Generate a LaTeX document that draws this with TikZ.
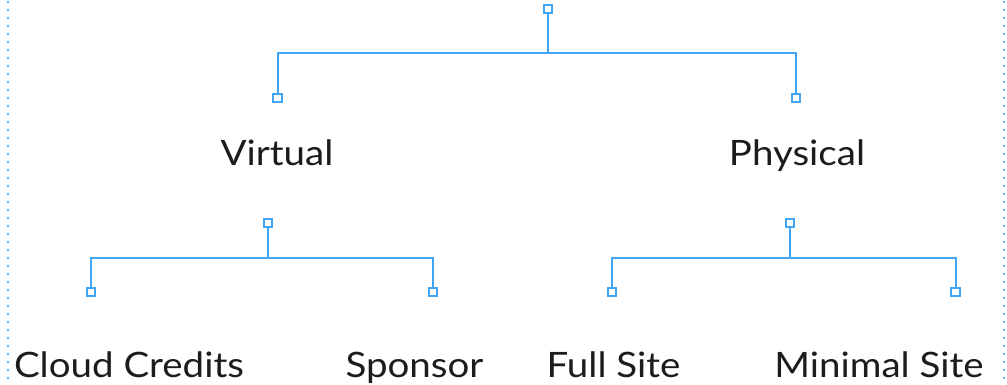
\documentclass[tikz,border=0pt]{standalone}
\usepackage{fontspec}
\setmainfont{Lato}[FakeStretch=1.1]
\definecolor{linkblue}{HTML}{42A5F5}
\definecolor{inkgray}{HTML}{1C1C1C}
\begin{document}
\begin{tikzpicture}[x=1pt,y=-1pt,
  link/.style={draw=linkblue,line width=2pt},
  knob/.style={rectangle,draw=linkblue,fill=white,line width=1.8pt,minimum size=8.5pt,inner sep=0pt},
  label/.style={anchor=base,inner sep=0pt,text=inkgray,font=\fontsize{35}{40}\selectfont},
  guide/.style={draw=linkblue!85,line width=2pt,dash pattern=on 2pt off 6pt}]
\useasboundingbox (0,0) rectangle (1007,385);
% side guides
\draw[guide] (7.5,1) -- (7.5,385);
\draw[guide] (1003.5,1) -- (1003.5,385);

% junction points of the branches
\coordinate (j0) at (548,53.5);
\coordinate (j1) at (268,257.5);
\coordinate (j2) at (790,257.5);

% knobs
\node[knob] (root) at (548,9) {};
\node[knob] (vin) at (277.5,98) {};
\node[knob] (pin) at (796,98) {};
\node[knob] (vout) at (268,223) {};
\node[knob] (pout) at (790,223) {};
\node[knob] (cc) at (91,292) {};
\node[knob] (sp) at (433,292) {};
\node[knob] (fs) at (612,292) {};
\node[knob] (ms) at (955.5,292) {};

% connectors between the knobs
\draw[link] (root.south) -- (j0);
\draw[link] (vin.north) |- (j0) -| (pin.north);
\draw[link] (vout.south) -- (j1);
\draw[link] (cc.north) |- (j1) -| (sp.north);
\draw[link] (pout.south) -- (j2);
\draw[link] (fs.north) |- (j2) -| (ms.north);

% labels
\node[label] (virtual) at (277,166) {Virtual};
\node[label] (physical) at (797,166) {Physical};
\node[label] (cloud) at (129,377) {Cloud Credits};
\node[label] (sponsor) at (414.5,377) {Sponsor};
\node[label] (full) at (613.5,377) {Full Site};
\node[label] (minimal) at (879,377) {Minimal Site};
\end{tikzpicture}
\end{document}
